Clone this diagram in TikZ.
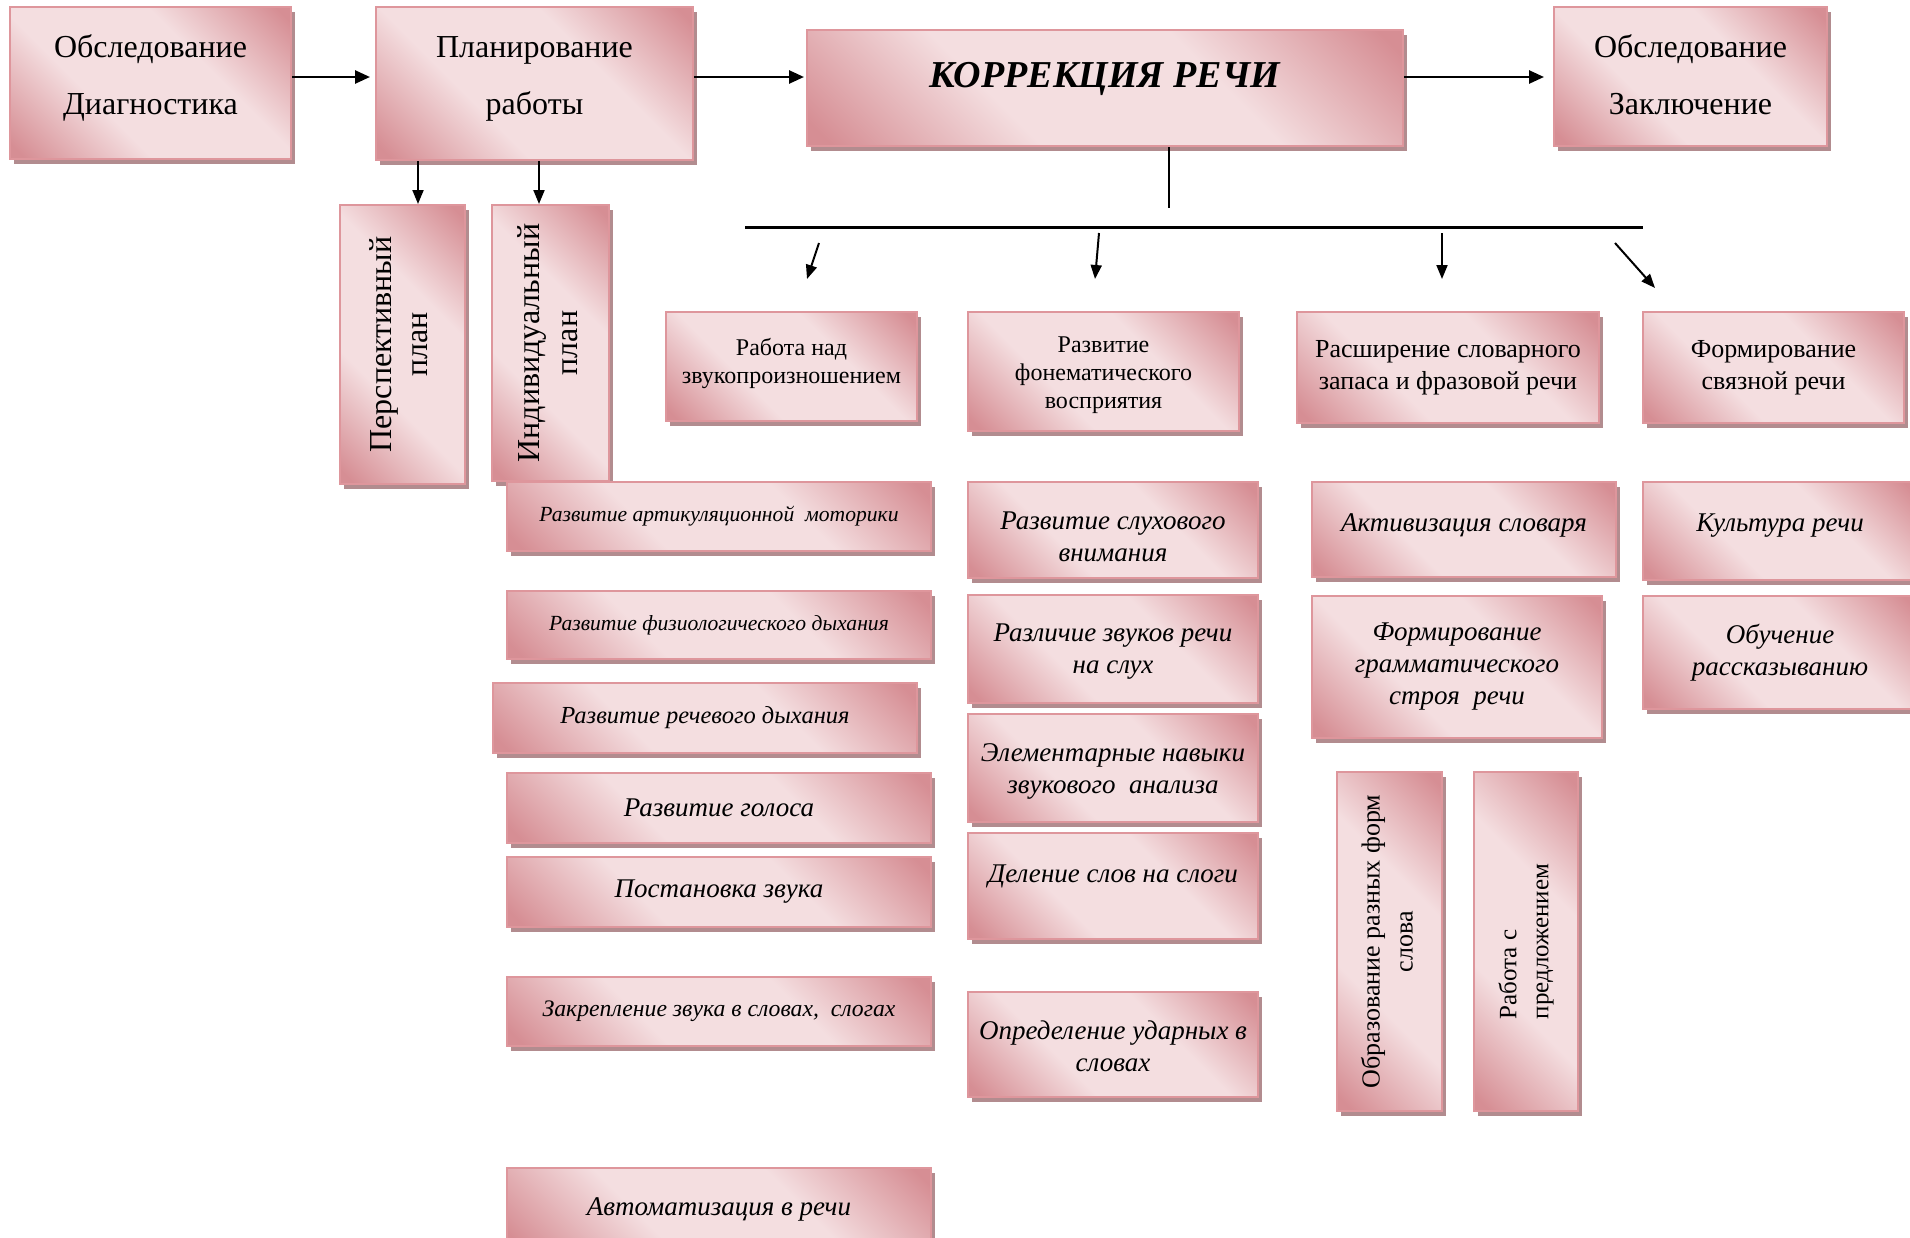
\documentclass[tikz,border=0pt]{standalone}
\usepackage{fontspec}
\setmainfont{Liberation Serif}
\usetikzlibrary{arrows.meta,shadows}
\definecolor{pD}{RGB}{214,142,148}
\definecolor{pL}{RGB}{244,222,224}
\definecolor{bord}{RGB}{222,150,156}
\definecolor{shc}{RGB}{178,140,143}
\pgfdeclareverticalshading{pinkdiag}{100bp}{color(0bp)=(pD); color(17bp)=(pD); color(38bp)=(pL); color(62bp)=(pL); color(83bp)=(pD); color(100bp)=(pD)}
\tikzset{
  box/.style={draw=bord, line width=2pt, shading=pinkdiag, shading angle=-45,
    inner sep=0pt, align=center, text=black,
    drop shadow={shadow xshift=4pt, shadow yshift=-5pt, fill=shc, opacity=1}},
  arrA/.style={line width=2.6pt, -{Triangle[length=15pt,width=13pt]}},
  arrB/.style={line width=2pt, -{Triangle[length=14pt,width=11pt]}},
  t32/.style={font=\fontsize{32}{57}\selectfont},
  t24/.style={font=\fontsize{24}{28}\selectfont},
  t26/.style={font=\fontsize{26}{32}\selectfont},
  ti/.style={font=\fontsize{#1}{32}\selectfont\itshape},
  lift/.style={text height={(#1+4)*1pt}, text depth=4pt},
}
\newcommand\Bx[7][]{\node[box,minimum width={(#5-#3)*1pt},minimum height={(#6-#4)*1pt},#1] (#2) at ({(#3+#5)/2},{(#4+#6)/2}) {#7};}
\newcommand\Lines[1]{\begin{tabular}[b]{@{}c@{}}#1\end{tabular}}
\begin{document}
\begin{tikzpicture}[x=1pt,y=-1pt]
\useasboundingbox (0,0) rectangle (1910,1237);
\clip (0,0) rectangle (1910,1237);
% top row
\Bx[t32, lift=62]{d1}{10}{7}{291}{159}{\Lines{Обследование\\Диагностика}}
\Bx[t32, lift=62]{pl}{376}{7}{693}{160}{\Lines{Планирование\\работы}}
\Bx[font=\fontsize{38}{44}\selectfont\bfseries\itshape, text height=12pt, text depth=14pt]{K}{807}{30}{1403}{146}{КОРРЕКЦИЯ РЕЧИ}
\Bx[t32, lift=75]{o2}{1554}{7}{1827}{146}{\Lines{Обследование\\Заключение}}
% plans
\Bx[font=\fontsize{32}{36}\selectfont]{persp}{340}{205}{465}{484}{\rotatebox{90}{\begin{tabular}{@{}c@{}}Перспективный\\план\end{tabular}}}
\Bx[font=\fontsize{32}{38}\selectfont]{indiv}{492}{205}{609}{481}{\rotatebox{90}{\begin{tabular}{@{}c@{}}Индивидуальный\\план\end{tabular}}}
% second row
\Bx[t24, lift=34]{r1}{666}{312}{917}{421}{\Lines{Работа над\\звукопроизношением}}
\Bx[t24, lift=73]{r2}{968}{312}{1239}{431}{\Lines{Развитие\\фонематического\\восприятия}}
\Bx[t26]{r3}{1297}{312}{1599}{423}{Расширение словарного\\запаса и фразовой речи}
\Bx[t26]{r4}{1643}{312}{1904}{423}{Формирование\\связной речи}
% left column
\Bx[ti=21.6]{l1}{507}{482}{931}{551}{Развитие артикуляционной\ \ моторики}
\Bx[ti=21.6]{l2}{507}{591}{931}{659}{Развитие физиологического дыхания}
\Bx[ti=24.5]{l3}{493}{683}{917}{753}{Развитие речевого дыхания}
\Bx[ti=27]{l4}{507}{773}{931}{843}{Развитие голоса}
\Bx[ti=27]{l5}{507}{857}{931}{927}{Постановка звука}
\Bx[ti=23.7]{l6}{507}{977}{931}{1046}{Закрепление звука в словах,\ \ слогах}
\Bx[ti=27]{l7}{507}{1168}{931}{1250}{Автоматизация в речи}
% middle column
\Bx[ti=27, lift=62]{m1}{968}{482}{1258}{578}{\Lines{Развитие слухового\\внимания}}
\Bx[ti=27, lift=49]{m2}{968}{595}{1258}{703}{\Lines{Различие звуков речи\\на слух}}
\Bx[ti=27, lift=51]{m3}{968}{714}{1258}{822}{\Lines{Элементарные навыки\\звукового\ \ анализа}}
\Bx[ti=27, text height=5pt, text depth=12pt]{m4}{968}{833}{1258}{939}{Деление слов на слоги}
\Bx[ti=27, lift=54]{m5}{968}{992}{1258}{1097}{\Lines{Определение ударных в\\словах}}
% right columns
\Bx[ti=27, text height=10pt, text depth=6pt]{a1}{1312}{482}{1616}{577}{Активизация словаря}
\Bx[ti=27]{a2}{1312}{596}{1602}{738}{Формирование\\грамматического\\строя\ \ речи}
\Bx[ti=27, text height=8pt, text depth=8pt]{c1}{1643}{482}{1917}{580}{Культура речи}
\Bx[ti=27]{c2}{1643}{596}{1917}{709}{Обучение\\рассказыванию}
\Bx[font=\fontsize{26}{33}\selectfont]{v1}{1337}{772}{1442}{1111}{\rotatebox{90}{\begin{tabular}{@{}c@{}}Образование разных форм\\слова\end{tabular}}}
\Bx[font=\fontsize{25}{32}\selectfont]{v2}{1474}{772}{1578}{1111}{\rotatebox{90}{\begin{tabular}{@{}l@{}}Работа с\\предложением\end{tabular}}}
% connectors
\draw[arrA, shorten >=5pt] (d1.east |- 0,77) -- (pl.west |- 0,77);
\draw[arrA, shorten >=2pt] (pl.east |- 0,77) -- (K.west |- 0,77);
\draw[arrA, shorten >=9pt] (K.east |- 0,77) -- (o2.west |- 0,77);
\draw[arrB] (pl.south -| 418,0) -- (persp.north -| 418,0);
\draw[arrB] (pl.south -| 539,0) -- (indiv.north -| 539,0);
\coordinate (hub) at (1169,208);
\coordinate (hl) at (745,227);
\coordinate (hr) at (1643,227);
\draw[line width=1.6pt] (K.south -| hub) -- (hub);
\draw[line width=3pt] (hl) -- (hr);
\coordinate (s1) at (819,243); \coordinate (e1) at (807,279);
\coordinate (s2) at (1099,233); \coordinate (e2) at (1095,279);
\coordinate (s3) at (1442,233); \coordinate (e3) at (1442,279);
\coordinate (s4) at (1615,243); \coordinate (e4) at (1655,288);
\draw[arrB] (s1) -- (e1);
\draw[arrB] (s2) -- (e2);
\draw[arrB] (s3) -- (e3);
\draw[arrB] (s4) -- (e4);
\end{tikzpicture}
\end{document}
